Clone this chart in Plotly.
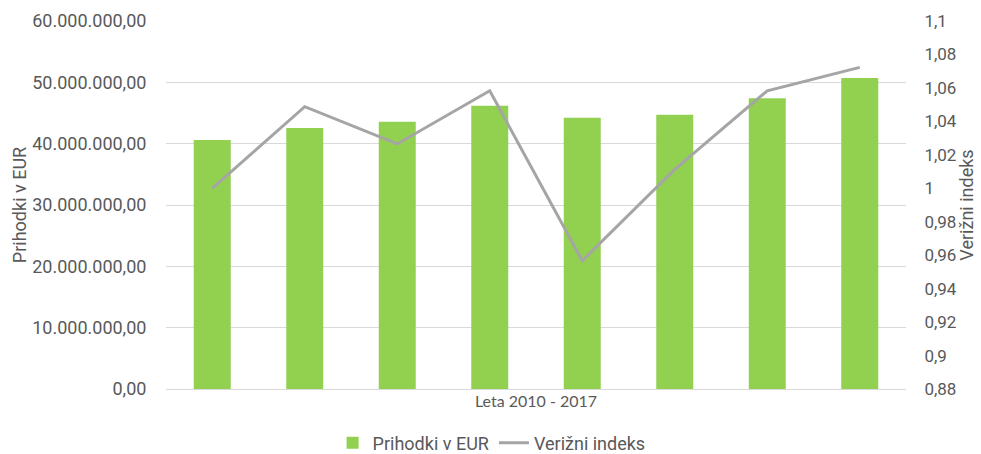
import plotly.graph_objects as go

years = ["2010", "2011", "2012", "2013", "2014", "2015", "2016", "2017"]
prihodki = [40600000, 42550000, 43580000, 46190000, 44230000, 44720000, 47400000, 50700000]
indeks = [1.0, 1.0488, 1.0265, 1.0583, 0.9567, 1.0113, 1.0583, 1.0723]

left_tickvals = [0, 10000000, 20000000, 30000000, 40000000, 50000000, 60000000]
left_ticktext = ["0,00", "10.000.000,00", "20.000.000,00", "30.000.000,00",
                 "40.000.000,00", "50.000.000,00", "60.000.000,00"]
right_tickvals = [0.88, 0.90, 0.92, 0.94, 0.96, 0.98, 1.00, 1.02, 1.04, 1.06, 1.08, 1.10]
right_ticktext = ["0,88", "0,9", "0,92", "0,94", "0,96", "0,98", "1", "1,02", "1,04", "1,06", "1,08", "1,1"]

txt = "#595959"
fig = go.Figure()
fig.add_trace(go.Bar(x=years, y=prihodki, name="Prihodki v EUR",
                     marker=dict(color="#92D050", line=dict(width=0)), width=0.4,
                     yaxis="y"))
fig.add_trace(go.Scatter(x=years, y=indeks, name="Verižni indeks", mode="lines",
                         line=dict(color="#A5A5A5", width=3), yaxis="y2"))

fig.update_layout(
    width=981, height=454,
    margin=dict(l=166, r=75, t=21, b=65, autoexpand=False),
    plot_bgcolor="white", paper_bgcolor="white",
    font=dict(family="Roboto", size=18, color=txt),
    showlegend=True,
    legend=dict(orientation="h", x=0.44, xanchor="center", y=-0.147, yanchor="middle",
                font=dict(family="Roboto", size=18, color=txt),
                itemwidth=30, traceorder="normal"),
    xaxis=dict(showticklabels=False, ticks="", showgrid=False, showline=True,
               linecolor="#D9D9D9", linewidth=1,
               title=dict(text="Leta 2010 - 2017", font=dict(family="Lato", size=16, color=txt),
                          standoff=6)),
    yaxis=dict(range=[0, 60000000], tickvals=left_tickvals, ticktext=left_ticktext,
               showgrid=True, gridcolor="#D9D9D9", gridwidth=1, zeroline=False,
               ticks="outside", ticklen=15, tickcolor="rgba(0,0,0,0)",
               tickfont=dict(family="Roboto", size=18, color=txt),
               title=dict(text="Prihodki v EUR", font=dict(family="Roboto", size=18, color=txt),
                          standoff=0)),
    yaxis2=dict(range=[0.88, 1.10], tickvals=right_tickvals, ticktext=right_ticktext,
                overlaying="y", side="right", showgrid=False, zeroline=False,
                ticks="outside", ticklen=14, tickcolor="rgba(0,0,0,0)",
                tickfont=dict(family="Roboto", size=17, color=txt),
                title=dict(text="Verižni indeks", font=dict(family="Roboto", size=18, color=txt),
                           standoff=4)),
    bargap=0.6,
)

fig.write_html("out.html", config={"displayModeBar": False},
               post_script="document.body.style.margin='0px';")
